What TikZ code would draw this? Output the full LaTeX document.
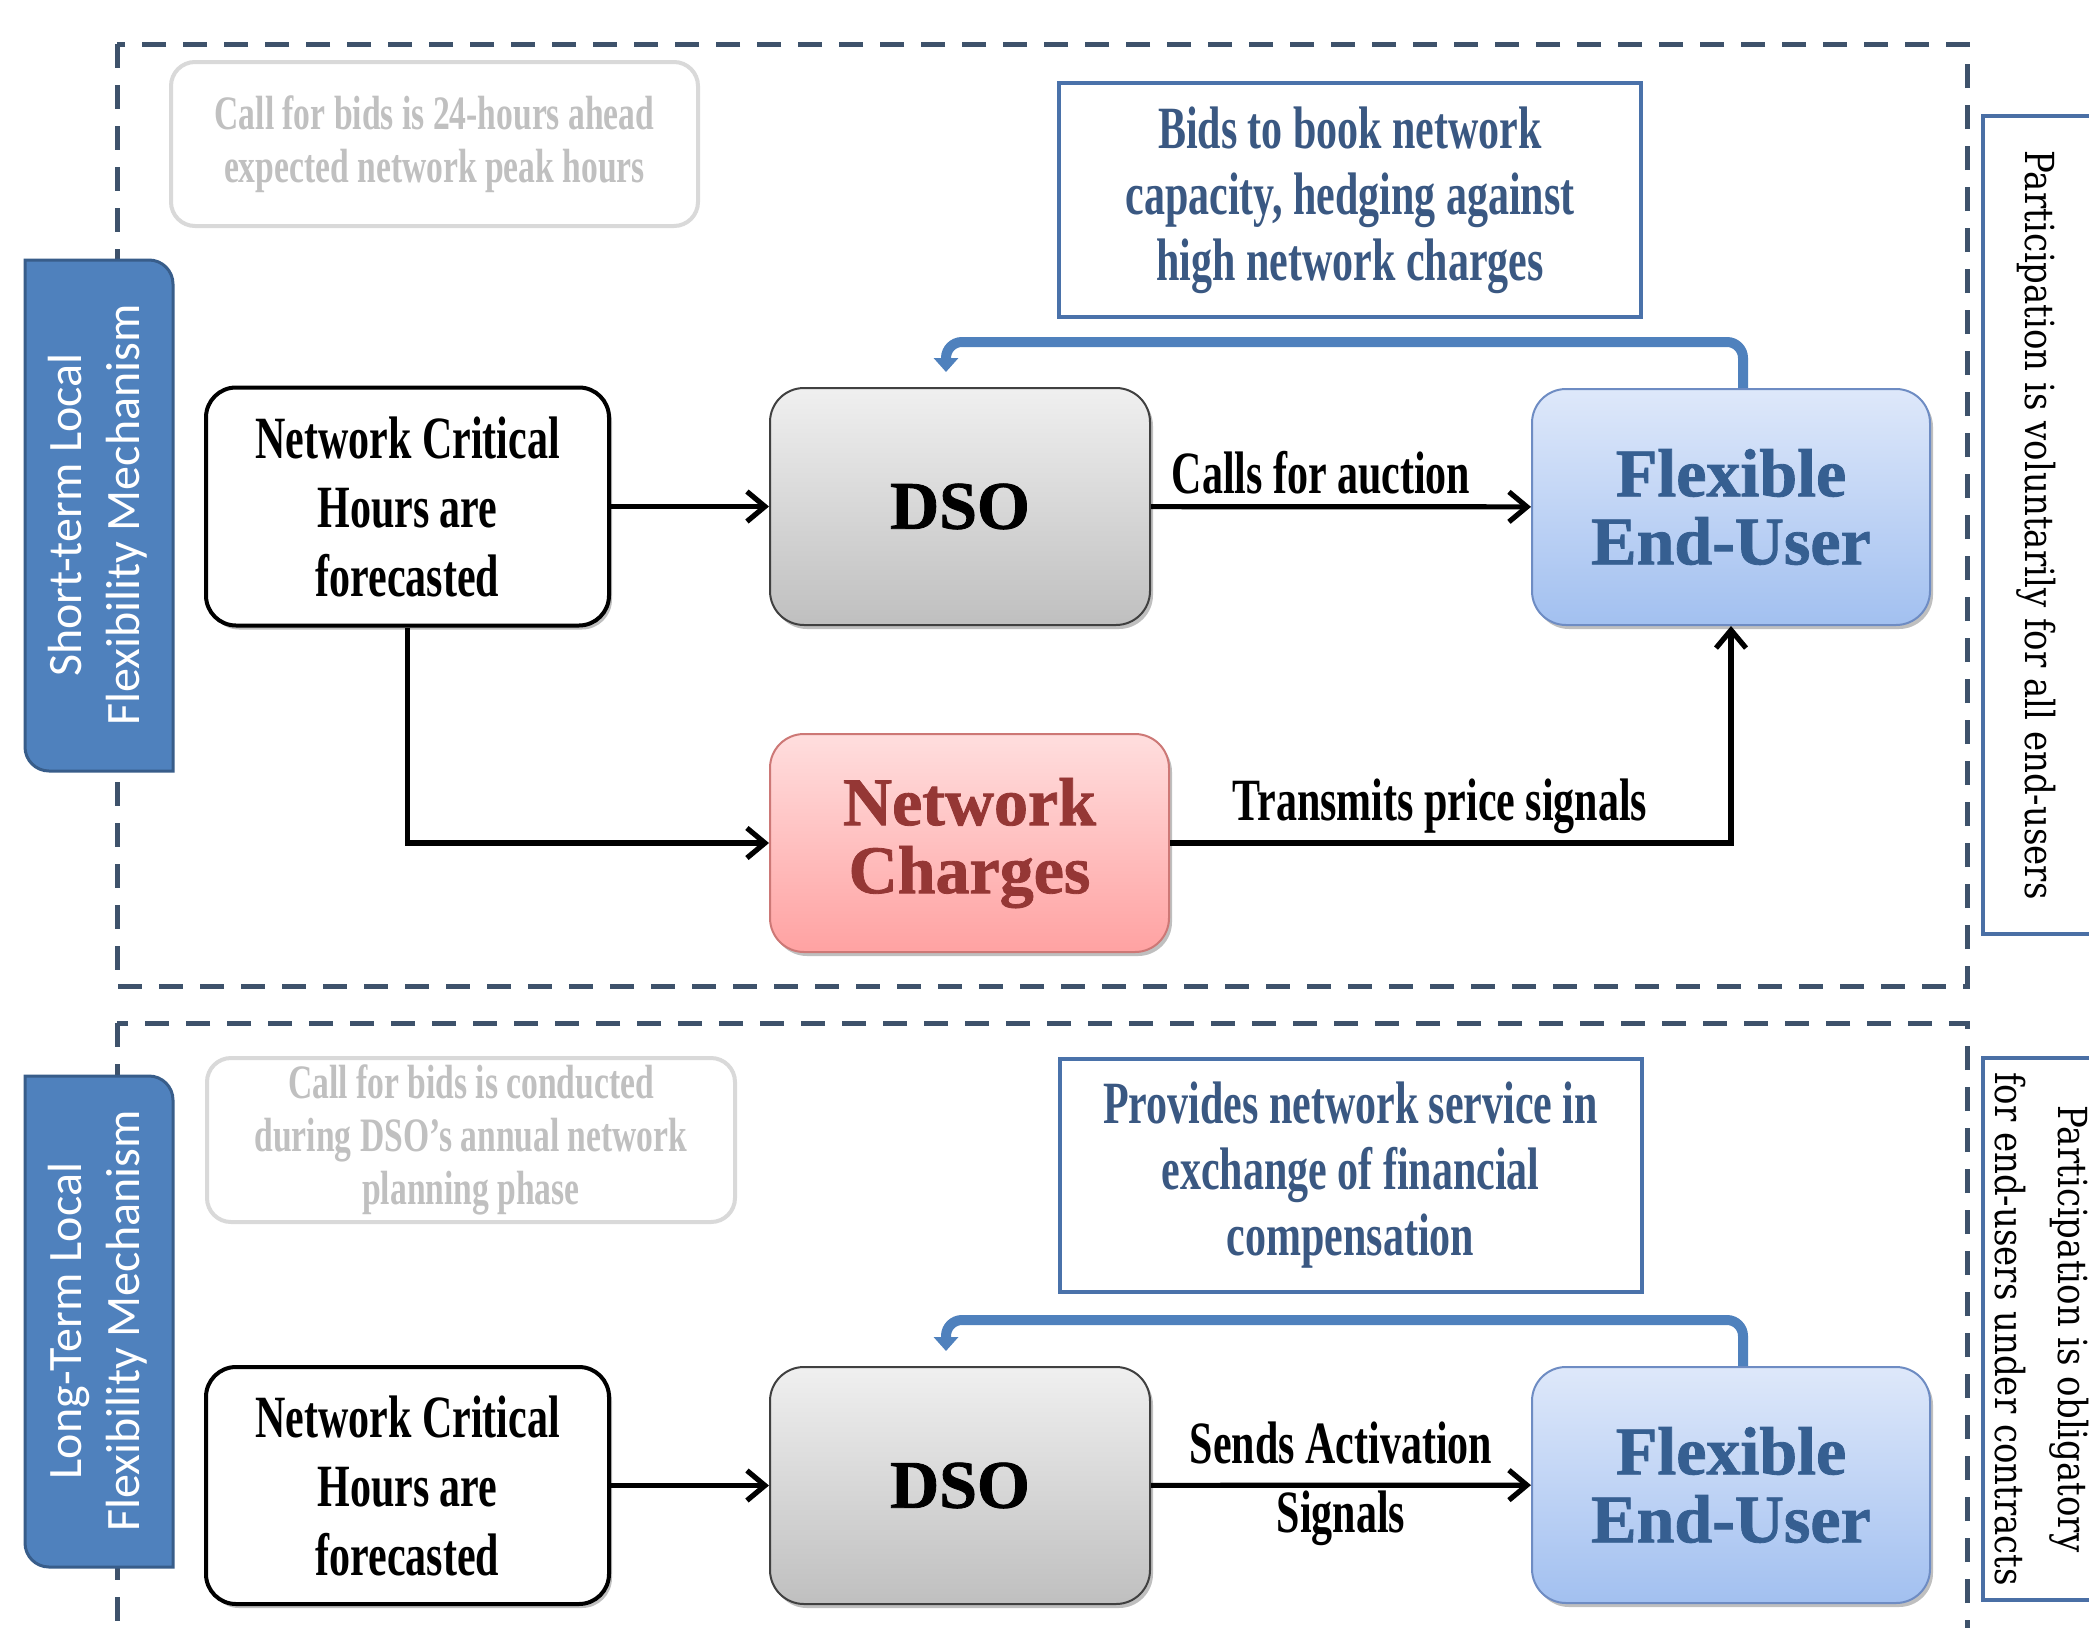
\documentclass[tikz,border=0pt]{standalone}
\usepackage{fontspec}
\setmainfont{Liberation Serif}
\newfontfamily\cnd[FakeStretch=0.7]{Liberation Serif}
\newfontfamily\heavy[FakeBold=1.2]{Liberation Serif}
\newfontfamily\rtx[FakeStretch=0.85]{DejaVu Serif}
\newfontfamily\calib{Carlito}
\usetikzlibrary{arrows.meta,shadows,calc}
\definecolor{dashc}{RGB}{62,82,107}
\definecolor{labfill}{RGB}{79,129,189}
\definecolor{labdraw}{RGB}{56,93,138}
\definecolor{feutext}{RGB}{54,95,145}
\definecolor{nctext}{RGB}{149,55,53}
\definecolor{desctext}{RGB}{58,88,130}
\definecolor{descdraw}{RGB}{74,114,170}
\definecolor{notetext}{RGB}{192,192,192}
\definecolor{notedraw}{RGB}{217,217,217}
\definecolor{fbc}{RGB}{79,129,189}
\definecolor{rboxc}{RGB}{74,111,165}
\begin{document}
\begin{tikzpicture}[x=0.5pt,y=-0.5pt,
  shad/.style={drop shadow={shadow xshift=1.5pt,shadow yshift=-2pt,opacity=0.25,fill=black}},
  dashbox/.style={draw=dashc,line width=2.5pt,dash pattern=on 12pt off 8.5pt},
  labbox/.style={fill=labfill,draw=labdraw,line width=1.5pt},
  labtxt/.style={rotate=90,text=white,align=center,inner sep=0pt,font=\calib\fontsize{24}{29}\selectfont},
  rbox/.style={fill=white,draw=rboxc,line width=2pt},
  rtxt/.style={rotate=-90,inner sep=0pt,font=\rtx\fontsize{20}{31.5}\selectfont},
  nchbox/.style={draw=black,line width=2pt,fill=white,rounded corners=15pt,minimum width=201.5pt,minimum height=119pt,align=center,inner sep=0pt,font=\cnd\bfseries\fontsize{30}{34.5}\selectfont,shad},
  dsobox/.style={draw=black!75,line width=1pt,top color=black!6,bottom color=black!25,rounded corners=17pt,minimum width=190pt,minimum height=118.5pt,inner sep=0pt,font=\heavy\bfseries\fontsize{34}{34}\selectfont,shad},
  feubox/.style={draw={rgb,255:red,110;green,140;blue,195},line width=1pt,top color={rgb,255:red,222;green,232;blue,250},bottom color={rgb,255:red,162;green,192;blue,240},rounded corners=17pt,minimum width=199pt,minimum height=118pt,inner sep=0pt,align=center,text=feutext,font=\heavy\bfseries\fontsize{34}{34}\selectfont,shad},
  ncbox/.style={draw={rgb,255:red,205;green,120;blue,118},line width=1pt,top color={rgb,255:red,255;green,222;blue,222},bottom color={rgb,255:red,255;green,162;blue,162},rounded corners=17pt,minimum width=199.5pt,minimum height=109pt,inner sep=0pt,align=center,text=nctext,font=\heavy\bfseries\fontsize{34}{34}\selectfont,shad},
  descbox/.style={draw=descdraw,line width=2pt,fill=white,minimum width=291pt,minimum height=117pt,inner sep=0pt,align=center,text=desctext,font=\cnd\bfseries\fontsize{30}{33}\selectfont},
  notebox/.style={draw=notedraw,line width=2pt,fill=white,rounded corners=12pt,minimum width=264pt,minimum height=82pt,inner sep=0pt,align=center,text=notetext,font=\cnd\bfseries\fontsize{24}{26.5}\selectfont},
  lbl/.style={inner sep=0pt,align=center,font=\cnd\bfseries\fontsize{30}{34.5}\selectfont},
  arr/.style={draw=black,line width=2.6pt,-{Straight Barb[length=9pt,width=15pt]}},
  fbarr/.style={draw=fbc,line width=5pt,rounded corners=8pt,-{Triangle[length=7pt,width=12pt]}}
]
\useasboundingbox (0,0) rectangle (2089,1628);
\clip (0,0) rectangle (2089,1628);
\fill[white] (0,0) rectangle (2089,1628);

% dashed section frames
\draw[dashbox] (117,44) rectangle (1967,986);
\draw[dashbox] (117,1023) rectangle (1967,1700);

% left section labels
\filldraw[labbox] (25,260) -- (149,260) .. controls (162.25,260) and (173,270.75) .. (173,284) -- (173,771) -- (49,771) .. controls (35.75,771) and (25,760.25) .. (25,747) -- cycle;
\node[labtxt] (t1) at (98,515) {Short-term Local\\Flexibility Mechanism};
\filldraw[labbox] (25,1076) -- (149,1076) .. controls (162.25,1076) and (173,1086.75) .. (173,1100) -- (173,1567) -- (49,1567) .. controls (35.75,1567) and (25,1556.25) .. (25,1543) -- cycle;
\node[labtxt] (t2) at (98,1321) {Long-Term Local\\Flexibility Mechanism};

% right participation boxes
\filldraw[rbox] (1983,116) rectangle (2130,934);
\node[rtxt] (r1) at (2036,525) {Participation is voluntarily for all end-users};
\filldraw[rbox] (1983,1058) rectangle (2130,1600);
\node[rtxt,align=center] (r2) at (2041.5,1329) {Participation is obligatory\\for end-users under contracts};

% ---------- short-term section ----------
\node[notebox,minimum width=263.5pt] (note1) at (434.5,144) {Call for bids is 24-hours ahead\\expected network peak hours};
\node[descbox] (desc1) at (1350,200) {Bids to book network\\capacity, hedging against\\high network charges};
\node[nchbox] (nch1) at (407.5,506.5) {Network Critical\\Hours are\\forecasted};
\node[dsobox] (dso1) at (960,506.5) {DSO};
\node[feubox] (feu1) at (1731,507) {Flexible\\End-User};
\node[ncbox] (nc) at (969.5,843) {Network\\Charges};

\draw[arr] (nch1) -- (dso1);
\draw[arr] (dso1) -- (feu1);
\draw[arr] (nch1.south) |- (nc.west);
\draw[arr] (nc.east) -| (feu1.south);
\node[lbl,anchor=base] (l1) at (1321,493) {Calls for auction};
\node[lbl,anchor=base] (l2) at (1440,820) {Transmits price signals};

\coordinate (fb1) at (946,342);
\draw[fbarr] ([xshift=6pt]feu1.north) |- (fb1) -- ([xshift=-7pt,yshift=7.5pt]dso1.north);

% ---------- long-term section ----------
\node[notebox] (note2) at (471,1140) {Call for bids is conducted\\during DSO’s annual network\\planning phase};
\node[descbox,minimum height=116.5pt] (desc2) at (1350.5,1175.5) {Provides network service in\\exchange of financial\\compensation};
\node[nchbox,minimum height=118.5pt] (nch2) at (407.5,1485.5) {Network Critical\\Hours are\\forecasted};
\node[dsobox] (dso2) at (960,1485.5) {DSO};
\node[feubox] (feu2) at (1731,1485) {Flexible\\End-User};

\draw[arr] (nch2) -- (dso2);
\draw[arr] (dso2) -- (feu2);
\node[lbl] (l3) at (1341,1484) {Sends Activation\\Signals};

\coordinate (fb2) at (946,1320);
\draw[fbarr] ([xshift=6pt]feu2.north) |- (fb2) -- ([xshift=-7pt,yshift=7.5pt]dso2.north);
\end{tikzpicture}
\end{document}
